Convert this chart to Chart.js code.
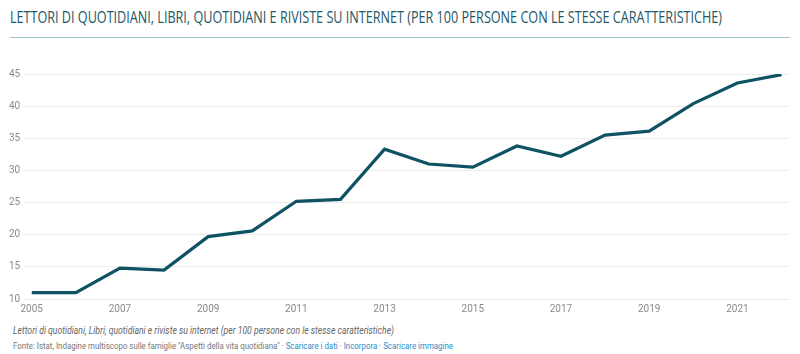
<!DOCTYPE html>
<html>
<head>
<meta charset="utf-8">
<script src="https://cdn.jsdelivr.net/npm/chart.js@4/dist/chart.umd.min.js"></script>
<style>
  html, body { margin: 0; padding: 0; background: #fff; }
  body { width: 800px; height: 354px; position: relative; overflow: hidden; font-family: Roboto, "Noto Sans", sans-serif; }
  .fit { position: absolute; white-space: nowrap; transform-origin: 0 0; }
  #title { left: 10px; top: 6px; font-family: "Open Sans", sans-serif; font-size: 15.5px; color: #235866; }
  #rule { position: absolute; left: 10px; top: 37px; width: 780px; height: 1px; background: #9fc3c9; }
  #wrap { position: absolute; left: 5px; top: 64px; width: 790px; height: 255px; }
  #note { left: 13px; top: 324px; font-size: 11px; font-style: italic; color: #666; }
  #src { left: 13px; top: 340px; font-size: 9.5px; color: #777; }
  #src a { color: #2b8cc4; text-decoration: none; }
</style>
</head>
<body>
<div id="title" class="fit" data-w="712">LETTORI DI QUOTIDIANI, LIBRI, QUOTIDIANI E RIVISTE SU INTERNET (PER 100 PERSONE CON LE STESSE CARATTERISTICHE)</div>
<div id="rule"></div>
<div id="wrap"><canvas id="chartLettori"></canvas></div>
<div id="note" class="fit" data-w="381">Lettori di quotidiani, Libri, quotidiani e riviste su internet (per 100 persone con le stesse caratteristiche)</div>
<div id="src" class="fit" data-w="440">Fonte: Istat, Indagine multiscopo sulle famiglie "Aspetti della vita quotidiana" · <a>Scaricare i dati</a> · <a>Incorpora</a> · <a>Scaricare immagine</a></div>
<script>
const anni = [2005, 2006, 2007, 2008, 2009, 2010, 2011, 2012, 2013, 2014, 2015, 2016, 2017, 2018, 2019, 2020, 2021, 2022]
const lettori = [11.0, 11.0, 14.8, 14.5, 19.7, 20.6, 25.2, 25.5, 33.3, 31.0, 30.5, 33.8, 32.2, 35.5, 36.1, 40.4, 43.6, 44.9]
const anniEtichette = [2005, 2007, 2009, 2011, 2013, 2015, 2017, 2019, 2021]
const yTicks = [10, 15, 20, 25, 30, 35, 40, 45]

// squeeze the texts to the widths of the original (narrow font there)
document.querySelectorAll('.fit').forEach((el) => {
  const w = el.getBoundingClientRect().width
  el.style.transform = 'scaleX(' + (Number(el.dataset.w) / w) + ')'
})

const graphic = document.getElementById('chartLettori')

let graphicLine = new Chart(graphic, {
  type: 'line',
  data: {
    datasets: [{
      label: 'Lettori',
      data: anni.map((a, i) => ({ x: a, y: lettori[i] })),
      borderColor: '#0f5264',
      borderWidth: 3.2,
      pointRadius: 0,
      tension: 0,
      fill: false
    }]
  },
  options: {
    responsive: true,
    maintainAspectRatio: false,
    animation: false,
    layout: { padding: { left: 0, right: 6, top: 8, bottom: 0 } },
    plugins: { legend: { display: false }, tooltip: { enabled: false } },
    scales: {
      x: {
        type: 'linear',
        min: 2004.83,
        max: 2022.17,
        afterBuildTicks: (axis) => { axis.ticks = anniEtichette.map(v => ({ value: v })) },
        grid: { display: false, drawTicks: false },
        border: { display: false },
        ticks: {
          color: '#8a8a8a',
          font: { family: 'Roboto', size: 10 },
          padding: 4,
          maxRotation: 0,
          callback: (v) => String(v)
        }
      },
      y: {
        min: 10,
        max: 45,
        afterBuildTicks: (axis) => { axis.ticks = yTicks.map(v => ({ value: v })) },
        grid: { color: '#ececec', lineWidth: 1, drawTicks: false },
        border: { display: false },
        ticks: {
          color: '#8a8a8a',
          font: { family: 'Roboto', size: 10 },
          padding: 4
        }
      }
    }
  }
})
</script>
</body>
</html>
